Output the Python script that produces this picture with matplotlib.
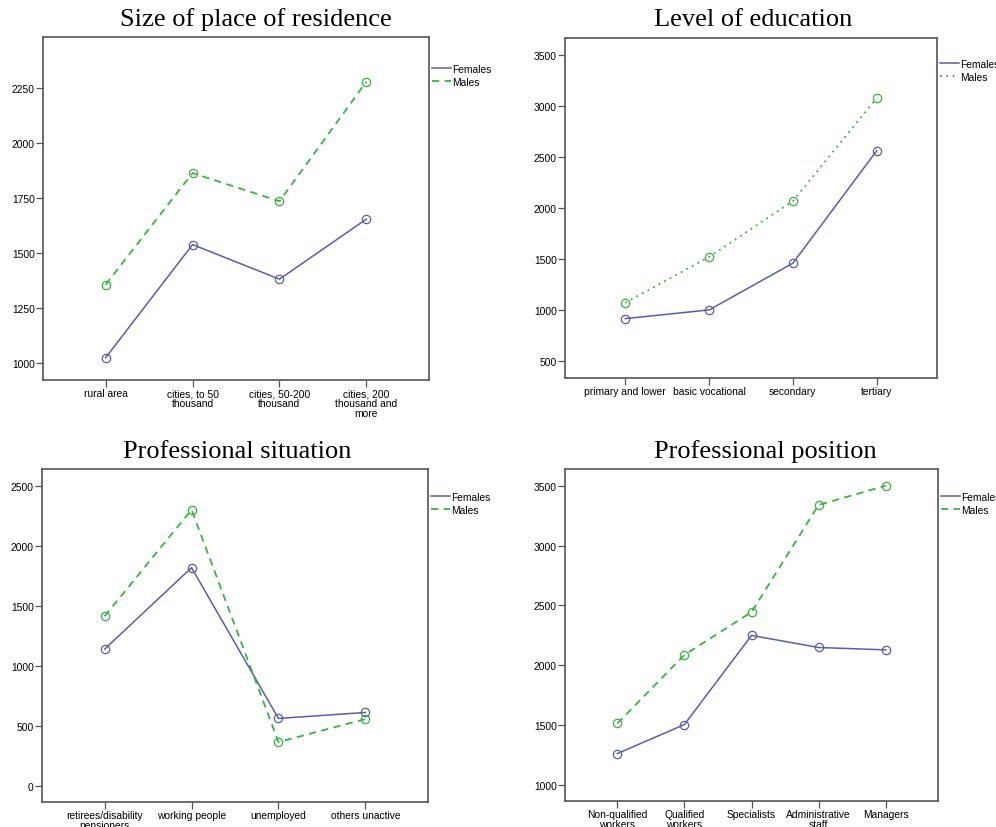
import matplotlib
matplotlib.use("Agg")
import matplotlib.pyplot as plt


# data
residence_cats = ["rural area", "cities, to 50\nthousand", "cities, 50-200\nthousand",
                  "cities, 200\nthousand and\nmore"]
residence_females = [1025, 1539, 1382, 1655]
residence_males = [1357, 1864, 1736, 2279]

education_cats = ["primary and lower", "basic vocational", "secondary", "tertiary"]
education_females = [918, 1003, 1461, 2562]
education_males = [1074, 1522, 2069, 3078]

situation_cats = ["retirees/disability\npensioners", "working people", "unemployed",
                  "others unactive"]
situation_females = [1139, 1819, 561, 611]
situation_males = [1414, 2302, 364, 556]

position_cats = ["Non-qualified\nworkers", "Qualified\nworkers", "Specialists",
                 "Administrative\nstaff", "Managers"]
position_females = [1260, 1503, 2249, 2148, 2128]
position_males = [1512, 2086, 2444, 3341, 3502]

W, H = 996, 828
BLUE = "#5a5ea8"
GREEN = "#3cb043"
FRAME = "#555555"
TICK_FS = 7.4


def px_rect(left, top, right, bottom):
    """pixel box -> figure fraction rect"""
    return [left / W, 1 - bottom / H, (right - left) / W, (bottom - top) / H]


def draw_panel(fig, rect, cats, fem, mal, yticks, ylim, title, title_xy,
               legend_xy, male_style, xpad=0.72):
    ax = fig.add_axes(px_rect(*rect))
    x = list(range(len(cats)))

    ax.plot(x, fem, color=BLUE, lw=1.1, marker="o", ms=6, mfc="none",
            mec=BLUE, mew=0.9, label="Females")
    ax.plot(x, mal, color=GREEN, lw=1.3, ls=male_style, marker="o", ms=6,
            mfc="none", mec=GREEN, mew=0.9, label="Males")

    ax.set_xlim(-xpad, len(cats) - 1 + xpad)
    ax.set_ylim(*ylim)
    ax.set_xticks(x)
    ax.set_xticklabels(cats, fontsize=TICK_FS, family="Liberation Sans",
                       linespacing=0.95)
    ax.set_yticks(yticks)
    ax.set_yticklabels([str(t) for t in yticks], fontsize=TICK_FS,
                       family="Liberation Sans")
    ax.tick_params(length=5, width=0.9, color=FRAME, pad=1)

    for sp in ax.spines.values():
        sp.set_color(FRAME)
        sp.set_linewidth(1.2)

    # title is placed on the figure, like the original layout
    fig.text(title_xy[0] / W, 1 - title_xy[1] / H, title, ha="center",
             va="center", fontsize=19, family="Liberation Serif")

    ax.legend(loc="upper left",
              bbox_to_anchor=(legend_xy[0] / W, 1 - legend_xy[1] / H),
              bbox_transform=fig.transFigure, frameon=False,
              prop={"family": "Liberation Sans", "size": TICK_FS},
              handlelength=1.8, handletextpad=0.2, labelspacing=0.3,
              borderpad=0, borderaxespad=0, markerscale=0)
    return ax


fig = plt.figure(figsize=(W / 100, H / 100), dpi=100)

draw_panel(fig, (43, 38, 429, 381), residence_cats, residence_females,
           residence_males, [1000, 1250, 1500, 1750, 2000, 2250], (924, 2482),
           "Size of place of residence", (256, 20), (432, 65),
           (0, (4, 3)))

draw_panel(fig, (565, 39, 937, 379), education_cats, education_females,
           education_males, [500, 1000, 1500, 2000, 2500, 3000, 3500],
           (336, 3667), "Level of education", (753, 20), (940, 60),
           (0, (1, 2.5)))

draw_panel(fig, (42, 470, 428, 803), situation_cats, situation_females,
           situation_males, [0, 500, 1000, 1500, 2000, 2500], (-136, 2642),
           "Professional situation", (237, 452), (431, 493),
           (0, (4, 3)))

draw_panel(fig, (565, 470, 938, 802), position_cats, position_females,
           position_males, [1000, 1500, 2000, 2500, 3000, 3500], (863, 3642),
           "Professional position", (765, 452), (941, 493),
           (0, (4, 3)), xpad=0.78)

fig.savefig("out.png", dpi=100, facecolor="white")
